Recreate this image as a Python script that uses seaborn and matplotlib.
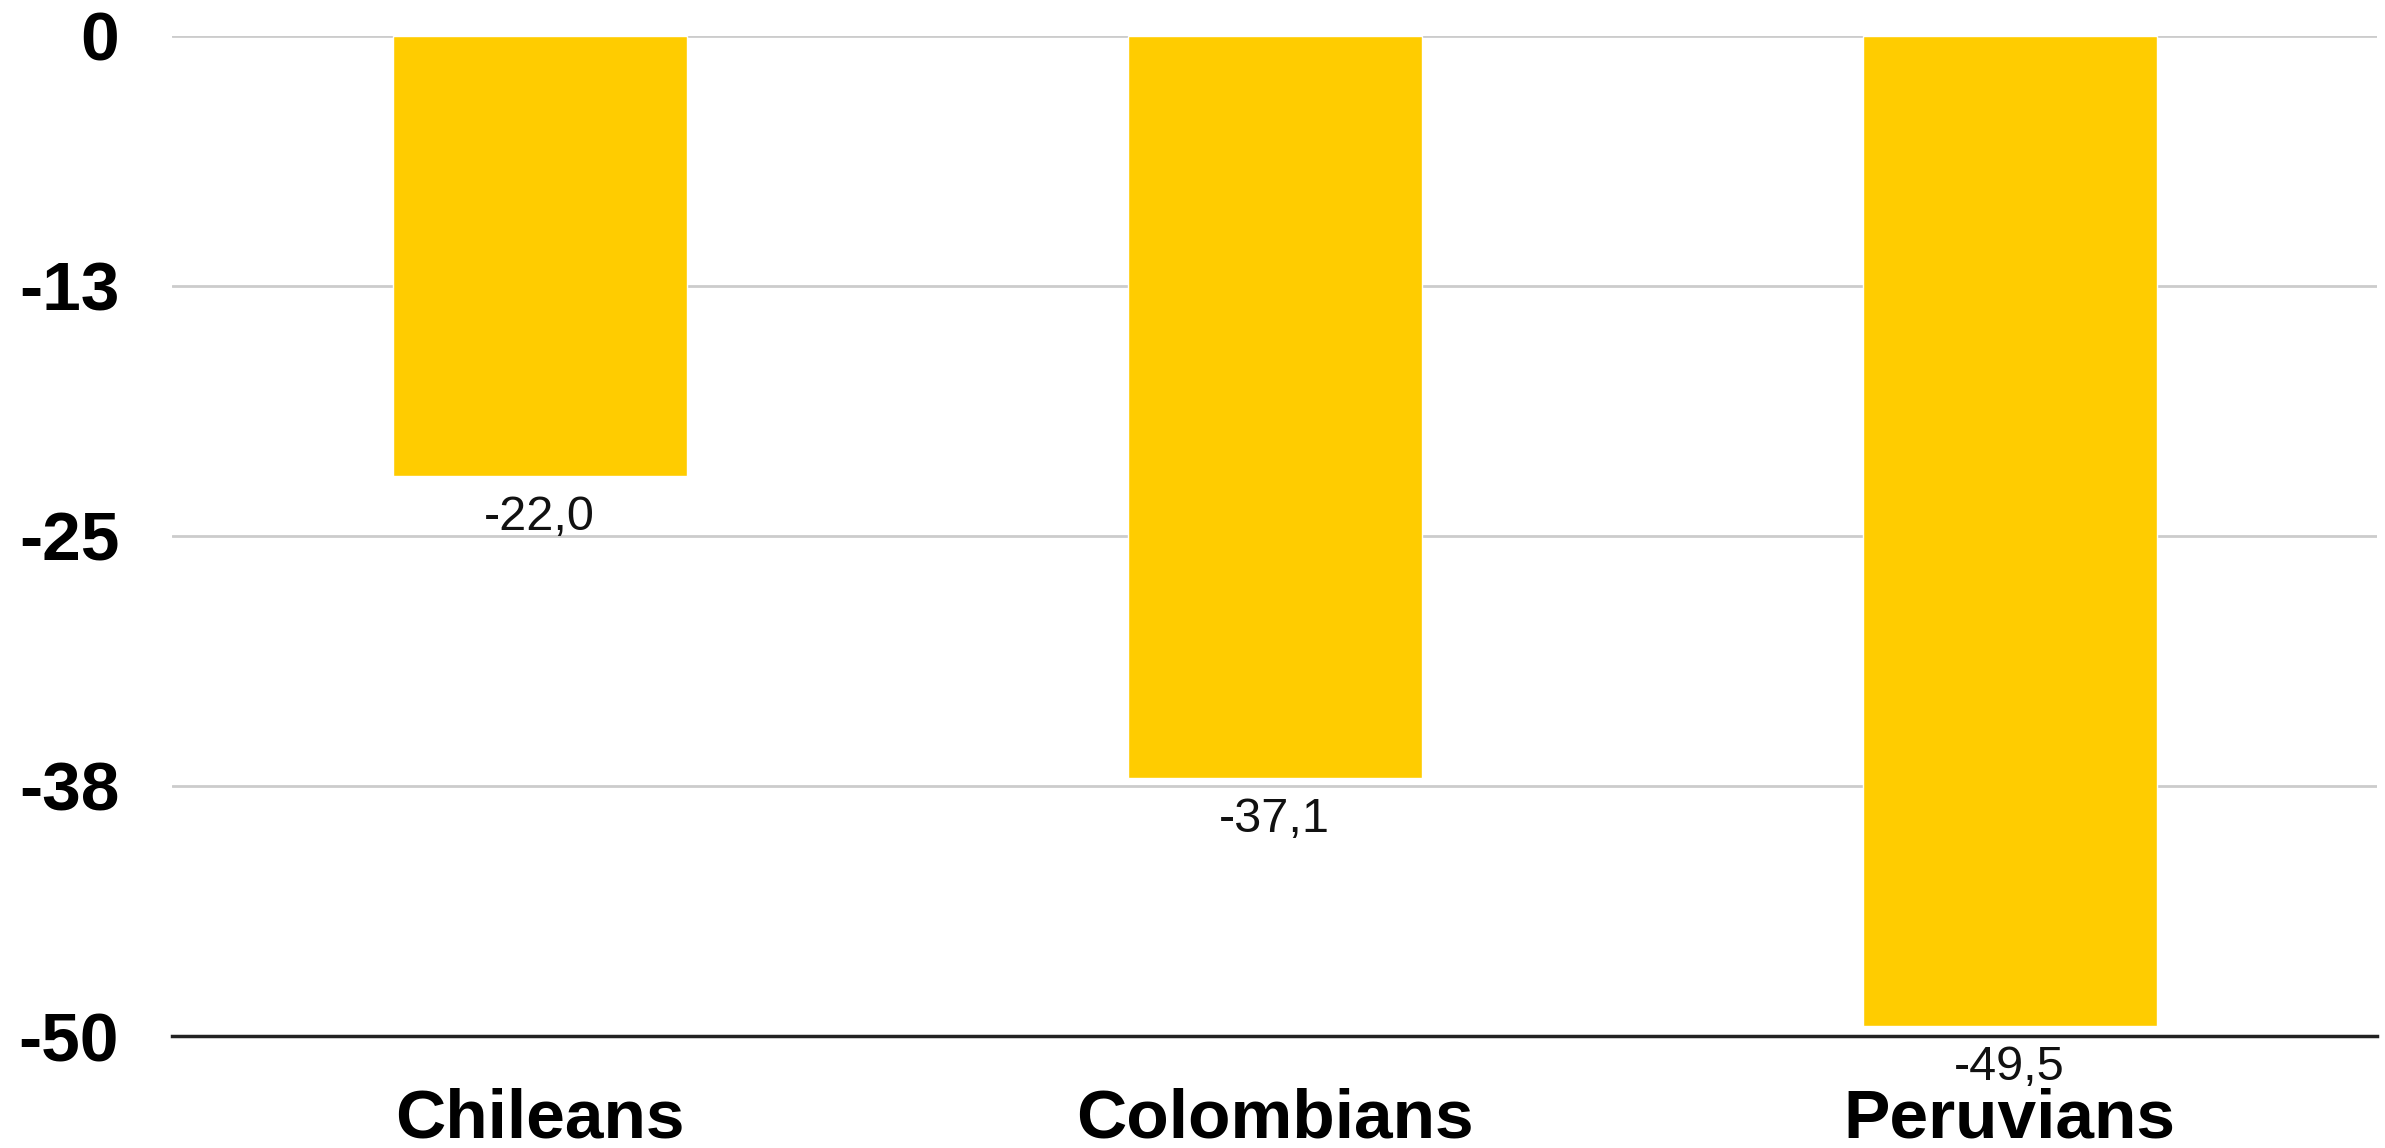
import matplotlib
matplotlib.use("Agg")
import matplotlib.pyplot as plt
import seaborn as sns
import pandas as pd

# Data
groups = ["Chileans", "Colombians", "Peruvians"]
change = [-22.0, -37.1, -49.5]
value_labels = ["-22,0", "-37,1", "-49,5"]
y_ticks = [0, -12.5, -25, -37.5, -50]
y_tick_labels = ["0", "-13", "-25", "-38", "-50"]

sns.set_theme(style="white")
plt.rcParams["font.family"] = ["Liberation Sans", "DejaVu Sans"]

df = pd.DataFrame({"group": groups, "change": change})

fig = plt.figure(figsize=(23.85, 11.48), dpi=100)
ax = fig.add_axes([0.07212, 0.09756, 0.92453, 0.8715])

sns.barplot(data=df, x="group", y="change", color="#FFCC00", saturation=1,
            width=0.4, ax=ax, zorder=3)

ax.set_ylim(-50, 0)
ax.set_xlim(-0.5, len(groups) - 0.5)

# horizontal gridlines
for y in y_ticks[:-1]:
    ax.axhline(y, color="#cccccc", lw=2, zorder=1)

ax.set_yticks(y_ticks)
ax.set_yticklabels(y_tick_labels, fontsize=50, fontweight="bold", color="black")
ax.tick_params(axis="y", length=0, pad=38)

ax.set_xticks(range(len(groups)))
ax.set_xticklabels(groups, fontsize=50, fontweight="bold", color="black")
ax.tick_params(axis="x", which="major", length=0, pad=37)
ax.set_xticks([i - 0.5 for i in range(len(groups) + 1)], minor=True)
ax.tick_params(axis="x", which="minor", length=5, width=1.5, color="#333333", direction="out")

ax.set_xlabel("")
ax.set_ylabel("")

for s in ["top", "right", "left"]:
    ax.spines[s].set_visible(False)
ax.spines["bottom"].set_color("#222222")
ax.spines["bottom"].set_linewidth(2.5)
ax.spines["bottom"].set_zorder(4)

# value labels under each bar end
for i, (v, lab) in enumerate(zip(change, value_labels)):
    ax.annotate(lab, xy=(i, v), xytext=(0, -14), textcoords="offset points",
                ha="center", va="top", fontsize=35, color="#111111", zorder=5)

fig.savefig("out.png", dpi=100, facecolor="white")
